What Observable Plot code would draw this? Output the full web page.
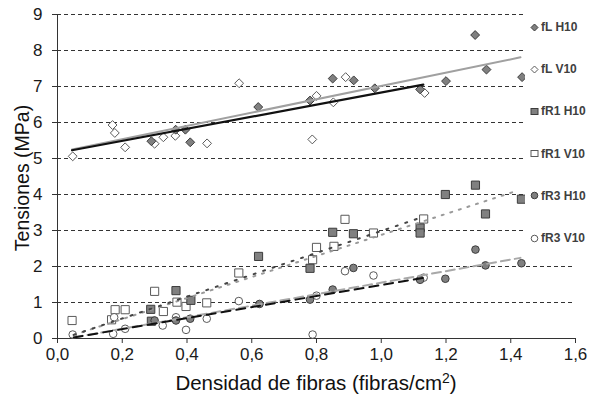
<!DOCTYPE html>
<html>
<head>
<meta charset="utf-8">
<script src="https://cdn.jsdelivr.net/npm/d3@7"></script>
<script src="https://cdn.jsdelivr.net/npm/@observablehq/plot@0.6"></script>
<style>
  body { margin: 0; background: #fff; }
  #wrap { position: relative; width: 601px; height: 404px; font-family: Arial, "Liberation Sans", sans-serif; overflow: hidden; }
  #legend { position: absolute; left: 525px; top: 4px; width: 76px; height: 252px; background: #fff; }
  .item { position: absolute; left: 5px; height: 14px; display: flex; align-items: center; font-weight: bold; font-size: 12px; color: #404040; white-space: nowrap; }
  .item svg { margin-right: 2px; }
  #ytitle { position: absolute; left: 22px; top: 178px; transform: translate(-50%, -50%) rotate(-90deg); font-size: 19.5px; color: #111; white-space: nowrap; }
  #xtitle { position: absolute; left: 316px; top: 383px; transform: translate(-50%, -50%); font-size: 20.5px; color: #111; white-space: nowrap; }
  #xtitle sup { font-size: 14px; vertical-align: 7px; line-height: 0; }
</style>
</head>
<body>
<div id="wrap">
  <div id="chart"></div>
  <div id="legend"></div>
  <div id="ytitle">Tensiones (MPa)</div>
  <div id="xtitle">Densidad de fibras (fibras/cm<sup>2</sup>)</div>
</div>
<script>
// ---- axis ticks ----
const xTicks = [0, 0.2, 0.4, 0.6, 0.8, 1.0, 1.2, 1.4, 1.6];
const yTicks = [0, 1, 2, 3, 4, 5, 6, 7, 8, 9];

// ---- series (x = densidad, y = tension) ----
const fL_H10_x = [0.29, 0.365, 0.395, 0.41, 0.62, 0.78, 0.85, 0.915, 0.98, 1.12, 1.20, 1.29, 1.325, 1.435];
const fL_H10_y = [5.48, 5.80, 5.80, 5.45, 6.43, 6.61, 7.22, 7.17, 6.95, 6.92, 7.15, 8.43, 7.47, 7.26];

const fL_V10_x = [0.047, 0.17, 0.177, 0.209, 0.30, 0.327, 0.364, 0.462, 0.561, 0.787, 0.80, 0.852, 0.89, 1.134];
const fL_V10_y = [5.06, 5.93, 5.71, 5.31, 5.41, 5.59, 5.63, 5.42, 7.09, 5.53, 6.74, 6.56, 7.26, 6.82];

const fR1_H10_x = [0.29, 0.288, 0.366, 0.412, 0.621, 0.78, 0.85, 0.914, 1.12, 1.12, 1.198, 1.291, 1.322, 1.433];
const fR1_H10_y = [0.48, 0.81, 1.33, 1.06, 2.28, 1.95, 2.95, 2.91, 3.07, 2.93, 4.00, 4.26, 3.46, 3.87];

const fR1_V10_x = [0.045, 0.167, 0.178, 0.209, 0.30, 0.327, 0.369, 0.397, 0.461, 0.56, 0.788, 0.80, 0.854, 0.888, 0.976, 1.131];
const fR1_V10_y = [0.50, 0.52, 0.80, 0.80, 1.31, 0.75, 1.01, 0.89, 0.99, 1.82, 2.19, 2.53, 2.56, 3.31, 2.93, 3.32];

const fR3_H10_x = [0.30, 0.366, 0.41, 0.624, 0.78, 0.85, 0.914, 1.12, 1.198, 1.291, 1.322, 1.433];
const fR3_H10_y = [0.50, 0.50, 0.55, 0.96, 1.08, 1.36, 1.96, 1.63, 1.66, 2.47, 2.03, 2.09];

const fR3_V10_x = [0.047, 0.172, 0.175, 0.209, 0.325, 0.366, 0.397, 0.461, 0.56, 0.788, 0.80, 0.888, 0.976, 1.131];
const fR3_V10_y = [0.11, 0.13, 0.59, 0.27, 0.36, 0.59, 0.24, 0.55, 1.04, 0.11, 1.19, 1.87, 1.75, 1.69];

// ---- trend lines (end points) ----
const tr_fL_V10_x = [0.045, 1.13];  const tr_fL_V10_y = [5.23, 7.05];
const tr_fL_H10_x = [0.045, 1.43];  const tr_fL_H10_y = [5.25, 7.81];
const tr_fR1_V10_x = [0.05, 1.11];  const tr_fR1_V10_y = [0.10, 3.32];
const tr_fR1_H10_x = [0.05, 1.415]; const tr_fR1_H10_y = [0.10, 4.09];
const tr_fR3_V10_x = [0.05, 1.14];  const tr_fR3_V10_y = [0.03, 1.70];
const tr_fR3_H10_x = [0.05, 1.43];  const tr_fR3_H10_y = [0.03, 2.24];

const legendNames = ["fL H10", "fL V10", "fR1 H10", "fR1 V10", "fR3 H10", "fR3 V10"];

const pts = (xs, ys) => xs.map((x, i) => ({x, y: ys[i]}));

const FILL = "#808080", DARK = "#3c3c3c", OPEN_STROKE = "#5a5a5a";

function dots(xs, ys, symbol, filled, r) {
  return Plot.dot(pts(xs, ys), {
    x: "x", y: "y", symbol, r,
    fill: filled ? FILL : "#fff",
    stroke: filled ? DARK : OPEN_STROKE,
    strokeWidth: 1
  });
}
function trend(xs, ys, stroke, width, dash) {
  return Plot.line(pts(xs, ys), {x: "x", y: "y", stroke, strokeWidth: width, strokeDasharray: dash});
}

const chart = Plot.plot({
  width: 601,
  height: 404,
  marginLeft: 57,
  marginRight: 26,
  marginTop: 14,
  marginBottom: 66,
  style: {fontFamily: "Arial, 'Liberation Sans', sans-serif", fontSize: "17px", color: "#1a1a1a", background: "#fff"},
  x: {domain: [0, 1.6]},
  y: {domain: [0, 9]},
  marks: [
    Plot.ruleY(yTicks.filter(d => d > 0), {stroke: "#333", strokeWidth: 1, strokeDasharray: "4,3"}),
    Plot.axisX({ticks: xTicks, tickFormat: d => d.toFixed(1).replace(".", ","), tickSize: 5, tickPadding: 4, label: null, stroke: "#333"}),
    Plot.axisY({ticks: yTicks, tickFormat: d => String(d), tickSize: 5, tickPadding: 10, label: null, stroke: "#333"}),
    Plot.ruleY([0], {stroke: "#333", strokeWidth: 1}),
    Plot.ruleX([0], {stroke: "#333", strokeWidth: 1}),
    dots(fL_V10_x, fL_V10_y, "diamond2", false, 4),
    dots(fL_H10_x, fL_H10_y, "diamond2", true, 4),
    dots(fR1_V10_x, fR1_V10_y, "square", false, 4.6),
    dots(fR1_H10_x, fR1_H10_y, "square", true, 4.6),
    dots(fR3_V10_x, fR3_V10_y, "circle", false, 3.8),
    dots(fR3_H10_x, fR3_H10_y, "circle", true, 3.8),
    trend(tr_fL_H10_x, tr_fL_H10_y, "#a0a0a0", 2, null),
    trend(tr_fL_V10_x, tr_fL_V10_y, "#111", 2.2, null),
    trend(tr_fR1_H10_x, tr_fR1_H10_y, "#9a9a9a", 2, "2,7"),
    trend(tr_fR1_V10_x, tr_fR1_V10_y, "#444", 2, "2,8"),
    trend(tr_fR3_H10_x, tr_fR3_H10_y, "#a8a8a8", 2, "9,5"),
    trend(tr_fR3_V10_x, tr_fR3_V10_y, "#111", 2, "9,6")
  ]
});
document.getElementById("chart").appendChild(chart);

// ---- legend ----
const legendShapes = [
  {shape: "diamond", filled: true},
  {shape: "diamond", filled: false},
  {shape: "square", filled: true},
  {shape: "square", filled: false},
  {shape: "circle", filled: true},
  {shape: "circle", filled: false}
];
const legend = document.getElementById("legend");
legendNames.forEach((name, i) => {
  const s = legendShapes[i];
  const fill = s.filled ? FILL : "#fff";
  const stroke = s.filled ? DARK : OPEN_STROKE;
  let shape;
  if (s.shape === "diamond") shape = `<path d="M4.5,1 L8,4.5 L4.5,8 L1,4.5Z" fill="${fill}" stroke="${stroke}"/>`;
  else if (s.shape === "square") shape = `<rect x="1" y="1.5" width="7" height="6" fill="${fill}" stroke="${stroke}"/>`;
  else shape = `<circle cx="4.5" cy="4.5" r="3.3" fill="${fill}" stroke="${stroke}"/>`;
  const div = document.createElement("div");
  div.className = "item";
  div.style.top = (16 + i * 42.2) + "px";
  div.innerHTML = `<svg width="9" height="9">${shape}</svg><span>${name}</span>`;
  legend.appendChild(div);
});
</script>
</body>
</html>
